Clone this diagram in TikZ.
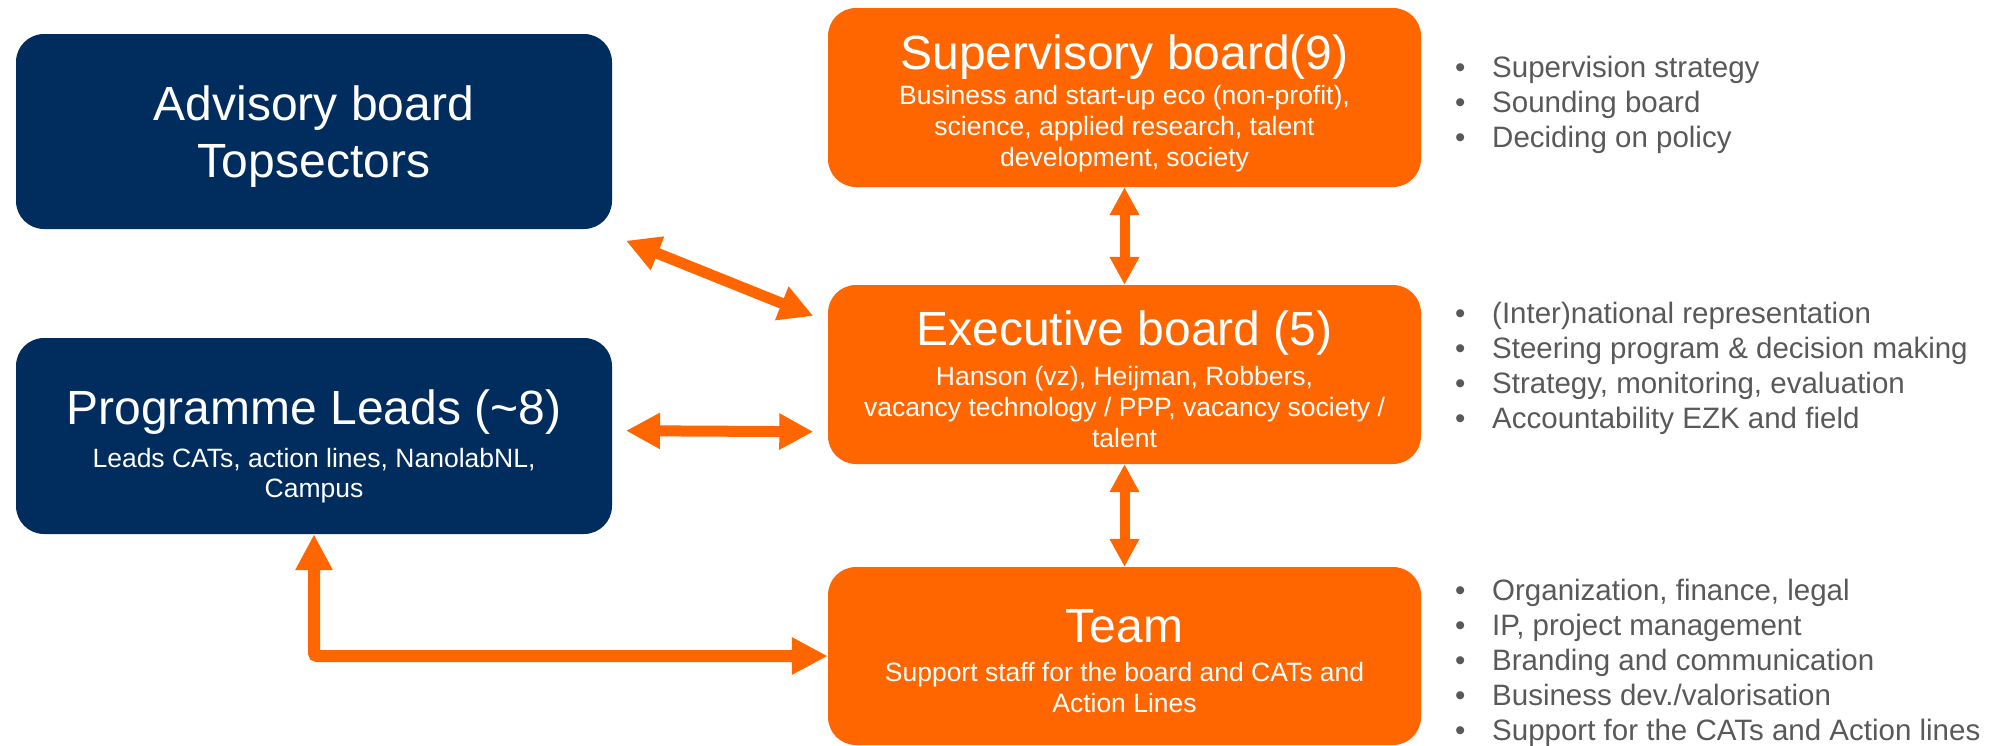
\documentclass[tikz,border=0pt]{standalone}
\usepackage{fontspec}
\setmainfont{Liberation Sans}
\usetikzlibrary{arrows.meta}
\definecolor{navy}{RGB}{0,45,94}
\definecolor{orng}{RGB}{255,102,0}
\definecolor{bgray}{RGB}{89,89,89}
\begin{document}
\begin{tikzpicture}[x=1pt,y=-1pt,
  box/.style={rectangle, rounded corners=28pt, inner sep=0pt, draw=none},
  navybox/.style={box, fill=navy},
  orbox/.style={box, fill=orng},
  ttl/.style={text=white, font=\fontsize{48}{55}\selectfont, inner sep=0pt, anchor=base},
  sub/.style={text=white, font=\fontsize{26.5}{30}\selectfont, inner sep=0pt, anchor=base},
  bul/.style={text=bgray, font=\fontsize{29.5}{35}\selectfont, inner sep=0pt, anchor=base west},
  fatarrow/.style={draw=orng, line width=11pt, {Triangle[length=34pt,width=34pt]}-{Triangle[length=34pt,width=34pt]}},
  vertarrow/.style={draw=orng, line width=10pt, {Triangle[length=28pt,width=28pt]}-{Triangle[length=28pt,width=28pt]}},
  elbarrow/.style={draw=orng, line width=12pt, rounded corners=3pt, {Triangle[length=36pt,width=35pt]}-{Triangle[length=36pt,width=35pt]}}
]
\useasboundingbox (0,0) rectangle (1998,745);

% boxes
\node[navybox, minimum width=596pt, minimum height=195pt] (adv) at (314,131.5) {};
\node[navybox, minimum width=596pt, minimum height=196pt] (prog) at (314,436) {};
\node[orbox, minimum width=593pt, minimum height=179pt] (sup) at (1124.5,97.5) {};
\node[orbox, minimum width=593pt, minimum height=179pt] (exec) at (1124.5,374.5) {};
\node[orbox, minimum width=593pt, minimum height=178pt] (team) at (1124.5,656) {};

% box texts
\node[ttl] (advt1) at (314,120) {Advisory board};
\node[ttl] (advt2) at (314,177) {Topsectors};

\node[ttl] (progt) at (314,424) {Programme Leads (\textasciitilde 8)};
\node[sub] (progs1) at (314,467) {Leads CATs, action lines, NanolabNL,};
\node[sub] (progs2) at (314,497) {Campus};

\node[ttl] (supt) at (1124.5,69) {Supervisory board(9)};
\node[sub] (sups1) at (1124.5,104) {Business and start-up eco (non-profit),};
\node[sub] (sups2) at (1124.5,135) {science, applied research, talent};
\node[sub] (sups3) at (1124.5,166) {development, society};

\node[ttl] (exect) at (1124.5,345) {Executive board (5)};
\node[sub] (execs1) at (1124.5,385.5) {Hanson (vz), Heijman, Robbers,};
\node[sub] (execs2) at (1124.5,416) {vacancy technology / PPP, vacancy society /};
\node[sub] (execs3) at (1124.5,447) {talent};

\node[ttl] (teamt) at (1124.5,642) {Team};
\node[sub] (teams1) at (1124.5,681) {Support staff for the board and CATs and};
\node[sub] (teams2) at (1124.5,712) {Action Lines};

% bullet lists
\node[bul] (b1) at (1455,77) {\makebox[37pt][l]{•}Supervision strategy};
\node[bul] (b2) at (1455,112) {\makebox[37pt][l]{•}Sounding board};
\node[bul] (b3) at (1455,147) {\makebox[37pt][l]{•}Deciding on policy};

\node[bul] (b4) at (1455,323) {\makebox[37pt][l]{•}(Inter)national representation};
\node[bul] (b5) at (1455,358) {\makebox[37pt][l]{•}Steering program \& decision making};
\node[bul] (b6) at (1455,393) {\makebox[37pt][l]{•}Strategy, monitoring, evaluation};
\node[bul] (b7) at (1455,428) {\makebox[37pt][l]{•}Accountability EZK and field};

\node[bul] (b8) at (1455,600) {\makebox[37pt][l]{•}Organization, finance, legal};
\node[bul] (b9) at (1455,635) {\makebox[37pt][l]{•}IP, project management};
\node[bul] (b10) at (1455,670) {\makebox[37pt][l]{•}Branding and communication};
\node[bul] (b11) at (1455,705) {\makebox[37pt][l]{•}Business dev./valorisation};
\node[bul] (b12) at (1455,740) {\makebox[37pt][l]{•}Support for the CATs and Action lines};

% arrows
\coordinate (d1) at (626,240.7);
\coordinate (d2) at (813.3,316);
\coordinate (h1) at (626,430.7);
\coordinate (h2) at (813.3,431.7);
\draw[fatarrow] (d1) -- (d2);
\draw[fatarrow] (h1) -- (h2);
\draw[vertarrow] (sup.south) -- (exec.north);
\draw[vertarrow] (exec.south) -- (team.north);
\draw[elbarrow] (prog.south) |- (team.west);
\end{tikzpicture}
\end{document}
